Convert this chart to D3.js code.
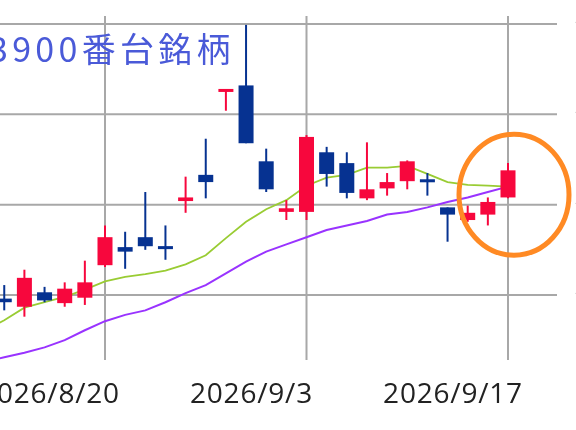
<!DOCTYPE html>
<html>
<head>
<meta charset="utf-8">
<script src="https://cdn.jsdelivr.net/npm/d3@7"></script>
<style>
  html, body { margin: 0; padding: 0; background: #fff; overflow: hidden; }
  svg { display: block; filter: blur(0.5px); }
</style>
</head>
<body>
<div id="chart"></div>
<script>
// Daily candles (trading days)
const dates = ["2026/8/13","2026/8/14","2026/8/17","2026/8/18","2026/8/19","2026/8/20","2026/8/21",
  "2026/8/24","2026/8/25","2026/8/26","2026/8/27","2026/8/28","2026/8/31","2026/9/1","2026/9/2",
  "2026/9/3","2026/9/4","2026/9/7","2026/9/8","2026/9/9","2026/9/10","2026/9/11","2026/9/14",
  "2026/9/15","2026/9/16","2026/9/17"];
const open  = [1096,1087,1103,1091,1097,1133,1153,1164,1153,1204,1233,1325,1332,1248,1192,1192,1258,1246,1207,1218,1226,1227,1197,1183,1189,1208];
const high  = [1111,1128,1109,1114,1138,1177,1170,1214,1177,1231,1273,1327,1399,1262,1205,1277,1264,1258,1269,1235,1249,1235,1197,1199,1208,1246];
const low   = [1083,1076,1092,1087,1089,1131,1129,1150,1139,1191,1207,1304,1268,1214,1183,1183,1220,1207,1205,1210,1217,1210,1159,1181,1177,1207];
const close = [1092,1119,1094,1107,1114,1164,1148,1154,1150,1208,1225,1327,1268,1217,1196,1275,1234,1213,1217,1225,1248,1224,1189,1191,1203,1238];

// Moving averages, starting one day before the first candle (2026/8/12)
const maShort = [1060,1072,1086,1092,1098,1106,1115,1120,1123,1127,1134,1144,1163,1181,1195,1205,1221,1230,1233,1241,1241,1243,1234,1225,1222,1221,1220];
const maLong  = [1026,1031,1036,1042,1050,1061,1071,1078,1083,1092,1102,1111,1124,1137,1148,1156,1164,1172,1177,1182,1189,1192,1197,1203,1208,1214,1220];

const priceTicks = [1100, 1200, 1300, 1400];
const dateTicks = ["2026/8/20", "2026/9/3", "2026/9/17"];
const title = "3900番台銘柄";

const width = 576, height = 430;

const svg = d3.select("#chart")
  .append("svg")
    .attr("width", width)
    .attr("height", height);

// scales: x by trading-day index
const x = d3.scaleLinear()
  .domain([0, dates.length - 1])
  .range([4.25, 508]);
const y = d3.scaleLinear()
  .domain([1100, 1400])
  .range([295, 24]);

// horizontal grid
svg.append("g")
  .selectAll("line")
  .data(priceTicks)
  .join("line")
    .attr("x1", 0)
    .attr("x2", 557)
    .attr("y1", d => y(d))
    .attr("y2", d => y(d))
    .attr("stroke", "#a8a8a8")
    .attr("stroke-width", 2);

// vertical grid + ticks
svg.append("g")
  .selectAll("line")
  .data(dateTicks)
  .join("line")
    .attr("x1", d => x(dates.indexOf(d)))
    .attr("x2", d => x(dates.indexOf(d)))
    .attr("y1", 16)
    .attr("y2", 360)
    .attr("stroke", "#a8a8a8")
    .attr("stroke-width", 2);

// date labels (sit left of their tick)
svg.append("g")
  .selectAll("text")
  .data(dateTicks)
  .join("text")
    .attr("x", d => x(dates.indexOf(d)) - 55)
    .attr("y", 403)
    .attr("text-anchor", "middle")
    .attr("font-family", "'Open Sans', sans-serif")
    .attr("font-size", 28)
    .attr("letter-spacing", 0.8)
    .attr("fill", "#222")
    .text(d => d);

// price labels, mostly cut off at the right edge
svg.append("g")
  .selectAll("text")
  .data(priceTicks)
  .join("text")
    .attr("x", 573)
    .attr("y", d => y(d) + 14)
    .attr("font-family", "'Open Sans', sans-serif")
    .attr("font-size", 27)
    .attr("fill", "#999")
    .text(d => d3.format(",")(d));

// title
svg.append("text")
  .attr("x", -11)
  .attr("y", 62)
  .attr("font-family", "'Noto Sans CJK JP', sans-serif")
  .attr("font-size", 34)
  .attr("letter-spacing", 4.3)
  .attr("fill", "#4a5ad8")
  .text(title);

// moving averages (index -1 = 2026/8/12)
const maLine = d3.line()
  .x((d, i) => x(i - 1))
  .y(d => y(d));

svg.append("path")
  .datum(maLong)
  .attr("fill", "none")
  .attr("stroke", "#9933ff")
  .attr("stroke-width", 2)
  .attr("d", maLine);

svg.append("path")
  .datum(maShort)
  .attr("fill", "none")
  .attr("stroke", "#99cc33")
  .attr("stroke-width", 1.8)
  .attr("d", maLine);

// candles
const candles = dates.map((d, i) => ({ i, o: open[i], h: high[i], l: low[i], c: close[i] }));
const color = d => d.c >= d.o ? "#f7073d" : "#063291";
const bodyW = 15;

const g = svg.append("g");
g.selectAll(".wick")
  .data(candles)
  .join("line")
    .attr("class", "wick")
    .attr("x1", d => x(d.i))
    .attr("x2", d => x(d.i))
    .attr("y1", d => y(d.h))
    .attr("y2", d => y(d.l))
    .attr("stroke", color)
    .attr("stroke-width", 2);

g.selectAll(".body")
  .data(candles)
  .join("rect")
    .attr("class", "body")
    .attr("x", d => x(d.i) - bodyW / 2)
    .attr("y", d => Math.min(y(d.o), y(d.c)) - (Math.abs(y(d.o) - y(d.c)) < 3 ? 1 : 0))
    .attr("width", bodyW)
    .attr("height", d => Math.max(Math.abs(y(d.o) - y(d.c)), 3))
    .attr("fill", color);

// highlight ring round the latest candle
const last = candles[candles.length - 1];
svg.append("ellipse")
  .attr("cx", x(last.i) + 6)
  .attr("cy", y(1200) - 10)
  .attr("rx", 55)
  .attr("ry", 60.5)
  .attr("fill", "none")
  .attr("stroke", "#ff8a24")
  .attr("stroke-width", 5);
</script>
</body>
</html>
